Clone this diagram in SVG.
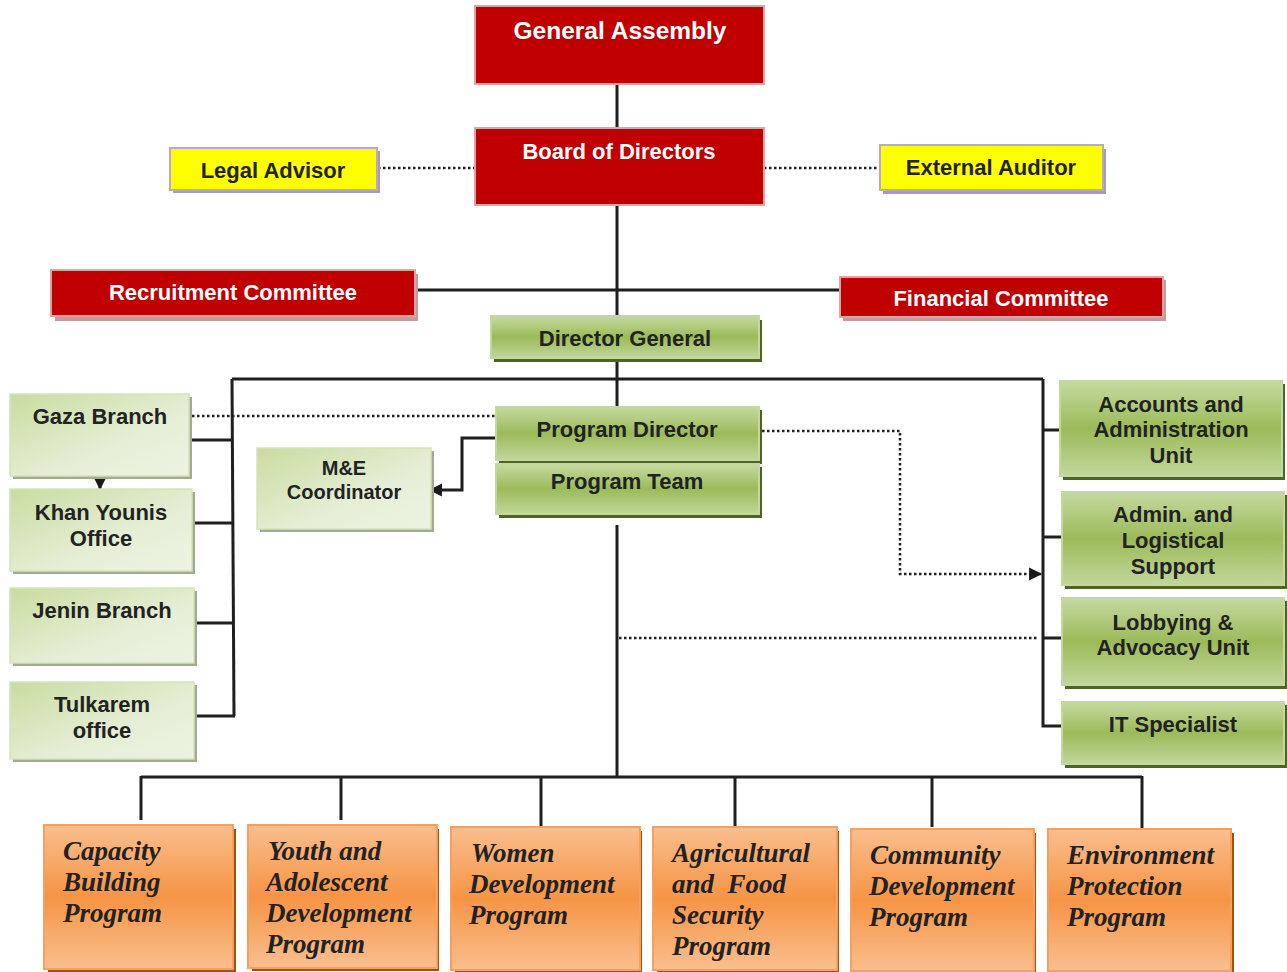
<svg xmlns="http://www.w3.org/2000/svg" width="1287" height="972" viewBox="0 0 1287 972">
<defs>
<linearGradient id="gGreen" x1="0" y1="0" x2="0" y2="1">
<stop offset="0" stop-color="#c6d9a0"/>
<stop offset="0.5" stop-color="#9bbb59"/>
<stop offset="1" stop-color="#c2d69a"/>
</linearGradient>
<linearGradient id="gLight" x1="0" y1="0" x2="1" y2="1">
<stop offset="0" stop-color="#c9dc9f"/>
<stop offset="0.6" stop-color="#e6eed6"/>
<stop offset="1" stop-color="#edf3e2"/>
</linearGradient>
<linearGradient id="gOrange" x1="0" y1="0" x2="0" y2="1">
<stop offset="0" stop-color="#f9be8e"/>
<stop offset="0.5" stop-color="#f69445"/>
<stop offset="1" stop-color="#f9bf8f"/>
</linearGradient>
<marker id="arr" viewBox="0 0 12 12" refX="11" refY="6" markerWidth="13" markerHeight="13" orient="auto" markerUnits="userSpaceOnUse" overflow="visible">
<path d="M0,0 L12,6 L0,12 z" fill="#1a1a1a"/>
</marker>
<style>
.red{fill:#c00000;stroke:#e0a3a3;stroke-width:2}
.redsh{fill:#c49a9a}
.yel{fill:#ffff00;stroke:#b8a8d0;stroke-width:2}
.yelsh{fill:#a89ab8}
.grn{fill:url(#gGreen);stroke:#c4d79e;stroke-width:2}
.grnsh{fill:#4f6228}
.lgt{fill:url(#gLight);stroke:#d4e3b8;stroke-width:1.5}
.lgtsh{fill:#a2aa92}
.org{fill:url(#gOrange);stroke:#f6a060;stroke-width:2}
.orgsh{fill:#a0520c}
.tw{font-family:"Liberation Sans",Arial,sans-serif;font-weight:bold;fill:#ffffff;text-anchor:middle;font-size:22px}
.tb{font-family:"Liberation Sans",Arial,sans-serif;font-weight:bold;fill:#222222;text-anchor:middle;font-size:22px}
.big{font-size:24.5px}
.sm{font-size:20px}
.ti{font-family:"Liberation Serif","Times New Roman",serif;font-weight:bold;font-style:italic;fill:#222222;font-size:27px;white-space:pre}
.ln{fill:none;stroke:#1f1f1f;stroke-width:3}
.dt{fill:none;stroke:#1f1f1f;stroke-width:2.5;stroke-dasharray:2.5 2.5}
</style>
</defs>

<g id="connectors">
<line class="ln" x1="617" y1="84" x2="617" y2="128"/>
<line class="ln" x1="617" y1="205" x2="617" y2="407"/>
<line class="ln" x1="416" y1="290" x2="840" y2="290"/>
<line class="dt" x1="378" y1="168" x2="475" y2="168"/>
<line class="dt" x1="764" y1="168" x2="880" y2="168"/>
<line class="ln" x1="232" y1="379" x2="1043" y2="379"/>
<polyline class="ln" points="232,379 234,716"/>
<line class="ln" x1="191" y1="440" x2="233" y2="440"/>
<line class="ln" x1="194" y1="523" x2="233" y2="523"/>
<line class="ln" x1="196" y1="623" x2="234" y2="623"/>
<line class="ln" x1="193" y1="716" x2="235" y2="716"/>
<polyline class="ln" points="1043,379 1043,726 1065,726"/>
<line class="ln" x1="1043" y1="430" x2="1060" y2="430"/>
<line class="ln" x1="1043" y1="537" x2="1062" y2="537"/>
<line class="ln" x1="1043" y1="638" x2="1062" y2="638"/>
<line class="dt" x1="192" y1="416" x2="496" y2="416"/>
<line class="ln" x1="100" y1="477" x2="100" y2="489" marker-end="url(#arr)"/>
<polyline class="ln" points="496,438 462,438 462,490 430,490" marker-end="url(#arr)"/>
<polyline class="dt" points="762,431 900,431 900,574 1041,574" marker-end="url(#arr)"/>
<line class="dt" x1="619" y1="638" x2="1037" y2="638"/>
<line class="ln" x1="617" y1="525" x2="617" y2="777"/>
<line class="ln" x1="141" y1="777" x2="1142" y2="777"/>
<line class="ln" x1="141" y1="776" x2="141" y2="820"/>
<line class="ln" x1="341" y1="777" x2="341" y2="820"/>
<line class="ln" x1="541" y1="777" x2="541" y2="827"/>
<line class="ln" x1="735" y1="777" x2="735" y2="826"/>
<line class="ln" x1="932" y1="777" x2="932" y2="827"/>
<line class="ln" x1="1142" y1="776" x2="1142" y2="828"/>
</g>

<g id="general-assembly">
<rect class="red" x="475" y="6" width="289" height="78"/>
<text class="tw big" x="620" y="39">General Assembly</text>
</g>
<g id="board-of-directors">
<rect class="red" x="475" y="128" width="289" height="77"/>
<text class="tw" x="619" y="159">Board of Directors</text>
</g>
<g id="legal-advisor">
<rect class="yelsh" x="173" y="151" width="207" height="42"/>
<rect class="yel" x="170" y="148" width="207" height="42"/>
<text class="tb" x="273" y="178">Legal Advisor</text>
</g>
<g id="external-auditor">
<rect class="yelsh" x="883" y="149" width="223" height="45"/>
<rect class="yel" x="880" y="145" width="223" height="45"/>
<text class="tb" x="991" y="175">External Auditor</text>
</g>
<g id="recruitment-committee">
<rect class="redsh" x="55" y="274" width="363" height="47"/>
<rect class="red" x="51" y="270" width="364" height="46"/>
<text class="tw" x="233" y="300">Recruitment Committee</text>
</g>
<g id="financial-committee">
<rect class="redsh" x="843" y="280" width="323" height="41"/>
<rect class="red" x="840" y="277" width="323" height="40"/>
<text class="tw" x="1001" y="306">Financial Committee</text>
</g>
<g id="director-general">
<rect class="grnsh" x="494" y="320" width="268" height="42"/>
<rect class="grn" x="491" y="316" width="268" height="42"/>
<text class="tb" x="625" y="346">Director General</text>
</g>

<g id="gaza-branch">
<rect class="lgtsh" x="13" y="397" width="179" height="82"/>
<rect class="lgt" x="10" y="394" width="179" height="82"/>
<text class="tb" x="100" y="424">Gaza Branch</text>
</g>
<g id="khan-younis-office">
<rect class="lgtsh" x="13" y="492" width="182" height="82"/>
<rect class="lgt" x="10" y="489" width="182" height="82"/>
<text class="tb" x="101" y="520">Khan Younis</text>
<text class="tb" x="101" y="546">Office</text>
</g>
<g id="jenin-branch">
<rect class="lgtsh" x="13" y="591" width="184" height="75"/>
<rect class="lgt" x="10" y="588" width="184" height="75"/>
<text class="tb" x="102" y="618">Jenin Branch</text>
</g>
<g id="tulkarem-office">
<rect class="lgtsh" x="13" y="685" width="184" height="77"/>
<rect class="lgt" x="10" y="682" width="184" height="77"/>
<text class="tb" x="102" y="712">Tulkarem</text>
<text class="tb" x="102" y="738">office</text>
</g>
<g id="me-coordinator">
<rect class="lgtsh" x="260" y="451" width="174" height="81"/>
<rect class="lgt" x="257" y="448" width="174" height="81"/>
<text class="tb sm" x="344" y="475">M&amp;E</text>
<text class="tb sm" x="344" y="499">Coordinator</text>
</g>
<g id="program-director">
<rect class="grnsh" x="499" y="410" width="263" height="54"/>
<rect class="grn" x="496" y="407" width="263" height="53"/>
<text class="tb" x="627" y="437">Program Director</text>
</g>
<g id="program-team">
<rect class="grnsh" x="499" y="467" width="263" height="51"/>
<rect class="grn" x="496" y="464" width="263" height="50"/>
<text class="tb" x="627" y="489">Program Team</text>
</g>

<g id="accounts-admin-unit">
<rect class="grnsh" x="1063" y="384" width="222" height="96"/>
<rect class="grn" x="1060" y="381" width="222" height="95"/>
<text class="tb" x="1171" y="412">Accounts and</text>
<text class="tb" x="1171" y="437">Administration</text>
<text class="tb" x="1171" y="463">Unit</text>
</g>
<g id="admin-logistical-support">
<rect class="grnsh" x="1065" y="495" width="222" height="94"/>
<rect class="grn" x="1062" y="492" width="222" height="93"/>
<text class="tb" x="1173" y="522">Admin. and</text>
<text class="tb" x="1173" y="548">Logistical</text>
<text class="tb" x="1173" y="574">Support</text>
</g>
<g id="lobbying-advocacy-unit">
<rect class="grnsh" x="1065" y="601" width="222" height="88"/>
<rect class="grn" x="1062" y="598" width="222" height="87"/>
<text class="tb" x="1173" y="630">Lobbying &amp;</text>
<text class="tb" x="1173" y="655">Advocacy Unit</text>
</g>
<g id="it-specialist">
<rect class="grnsh" x="1065" y="705" width="222" height="63"/>
<rect class="grn" x="1062" y="702" width="222" height="62"/>
<text class="tb" x="1173" y="732">IT Specialist</text>
</g>

<g id="capacity-building-program">
<rect class="orgsh" x="48" y="829" width="188" height="143"/>
<rect class="org" x="44" y="825" width="189" height="144"/>
<text class="ti" x="63" y="860">Capacity</text>
<text class="ti" x="63" y="891">Building</text>
<text class="ti" x="63" y="922">Program</text>
</g>
<g id="youth-adolescent-program">
<rect class="orgsh" x="252" y="829" width="187" height="142"/>
<rect class="org" x="248" y="825" width="189" height="143"/>
<text class="ti" x="268" y="860">Youth and</text>
<text class="ti" x="266" y="891">Adolescent</text>
<text class="ti" x="266" y="922">Development</text>
<text class="ti" x="266" y="953">Program</text>
</g>
<g id="women-development-program">
<rect class="orgsh" x="455" y="831" width="187" height="141"/>
<rect class="org" x="451" y="827" width="189" height="143"/>
<text class="ti" x="471" y="862">Women</text>
<text class="ti" x="469" y="893">Development</text>
<text class="ti" x="469" y="924">Program</text>
</g>
<g id="agricultural-food-security-program">
<rect class="orgsh" x="657" y="831" width="182" height="141"/>
<rect class="org" x="653" y="827" width="184" height="143"/>
<text class="ti" x="672" y="862">Agricultural</text>
<text class="ti" x="672" y="893">and  Food</text>
<text class="ti" x="672" y="924">Security</text>
<text class="ti" x="672" y="955">Program</text>
</g>
<g id="community-development-program">
<rect class="orgsh" x="855" y="833" width="181" height="139"/>
<rect class="org" x="851" y="829" width="183" height="142"/>
<text class="ti" x="870" y="864">Community</text>
<text class="ti" x="869" y="895">Development</text>
<text class="ti" x="869" y="926">Program</text>
</g>
<g id="environment-protection-program">
<rect class="orgsh" x="1052" y="833" width="182" height="139"/>
<rect class="org" x="1048" y="829" width="183" height="142"/>
<text class="ti" x="1067" y="864">Environment</text>
<text class="ti" x="1067" y="895">Protection</text>
<text class="ti" x="1067" y="926">Program</text>
</g>
</svg>
